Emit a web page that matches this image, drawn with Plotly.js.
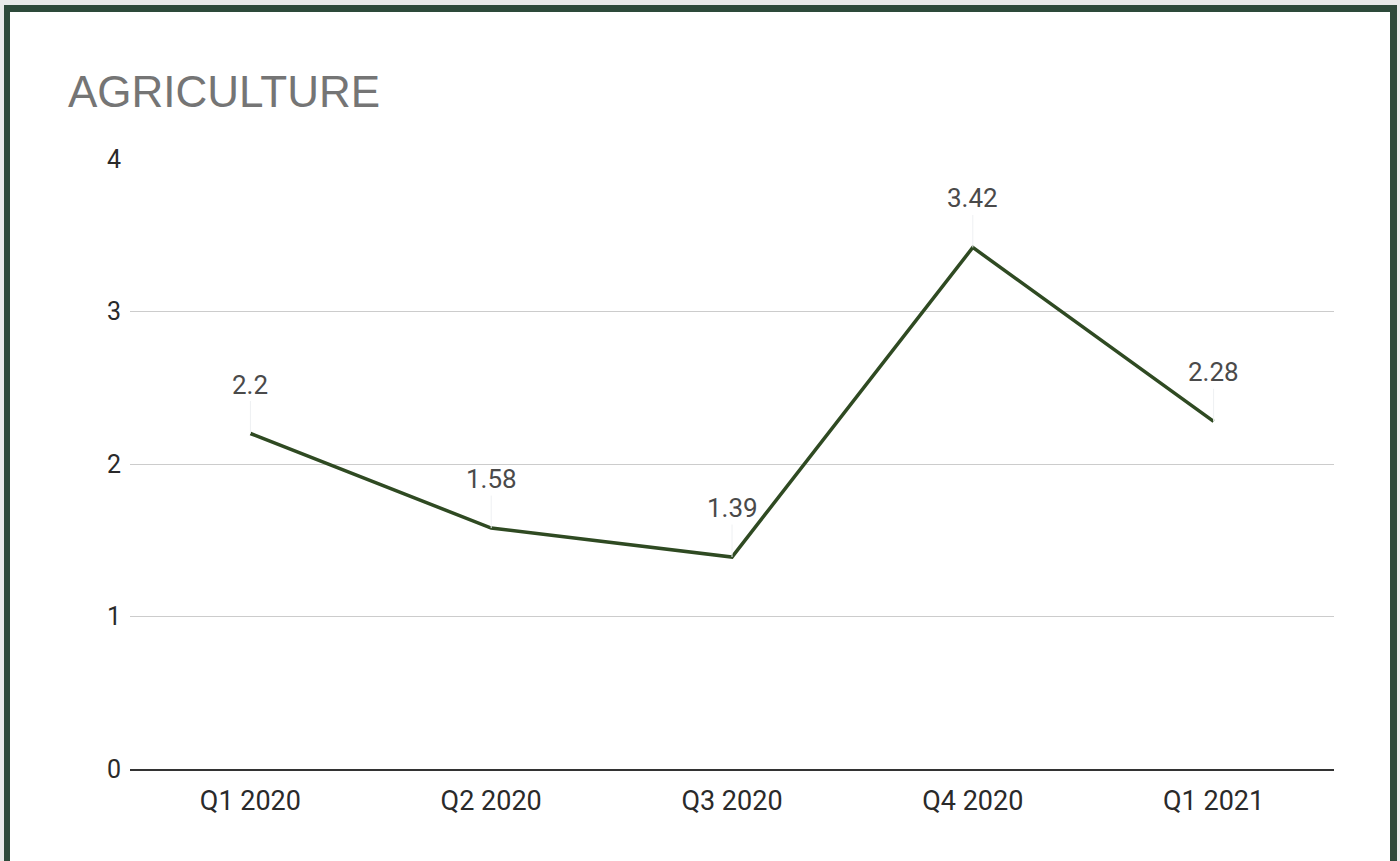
<!DOCTYPE html>
<html>
<head>
<meta charset="utf-8">
<script src="https://cdn.plot.ly/plotly-3.0.1.min.js"></script>
<style>
  html, body { margin: 0; padding: 0; width: 1400px; height: 861px; overflow: hidden; background: #e8eae9; }
  #frame { position: absolute; left: 4px; top: 5px; width: 1380px; height: 900px; background: #ffffff;
           border-left: 6px solid #2d4a3a; border-top: 7px solid #2d4a3a; border-right: 7px solid #2d4a3a; }
  #chart { position: absolute; left: 10px; top: 12px; width: 1380px; height: 849px; }
</style>
</head>
<body>
<div id="frame"></div>
<div id="chart"></div>
<script>
const chartTitle = "AGRICULTURE";
const quarters = ["Q1 2020", "Q2 2020", "Q3 2020", "Q4 2020", "Q1 2021"];
const values = [2.2, 1.58, 1.39, 3.42, 2.28];
const valueLabels = ["2.2", "1.58", "1.39", "3.42", "2.28"];
const yTicks = [0, 1, 2, 3, 4];

const trace = {
  type: "scatter",
  mode: "lines",
  x: quarters,
  y: values,
  line: { color: "#2f4a22", width: 3.5 },
  hoverinfo: "x+y"
};

const annotations = quarters.map((q, i) => ({
  x: q, y: values[i], xref: "x", yref: "y",
  text: valueLabels[i],
  showarrow: true, arrowhead: 0, arrowwidth: 1, arrowcolor: "#eef0f2",
  ax: 0, ay: -49, standoff: 0,
  font: { family: "Roboto, sans-serif", size: 26, color: "#4a4a4a" }
}));

const layout = {
  width: 1380, height: 849,
  paper_bgcolor: "#ffffff", plot_bgcolor: "#ffffff",
  margin: { l: 120, r: 56, t: 147, b: 92 },
  showlegend: false,
  title: {
    text: chartTitle,
    x: 58 / 1380, xanchor: "left", xref: "container",
    y: 1 - 80 / 849, yanchor: "middle", yref: "container",
    font: { family: "Liberation Sans, Arial, sans-serif", size: 44, color: "#757575" }
  },
  xaxis: {
    type: "category",
    range: [-0.5, 4.5],
    showgrid: false, zeroline: false,
    showline: true, linecolor: "#333333", linewidth: 2,
    ticks: "", ticklabelstandoff: 7,
    tickfont: { family: "Roboto, sans-serif", size: 27, color: "#2a2a2a" },
    fixedrange: true
  },
  yaxis: {
    range: [0, 4],
    tickvals: yTicks, ticktext: yTicks.map(String),
    showgrid: true, gridcolor: "#cccccc", gridwidth: 1,
    zeroline: false, showline: false,
    ticks: "", ticklabelstandoff: 8,
    tickfont: { family: "Roboto, sans-serif", size: 25, color: "#2a2a2a" },
    fixedrange: true
  },
  annotations: annotations
};

Plotly.newPlot("chart", [trace], layout, { displayModeBar: false, staticPlot: true });
</script>
</body>
</html>
